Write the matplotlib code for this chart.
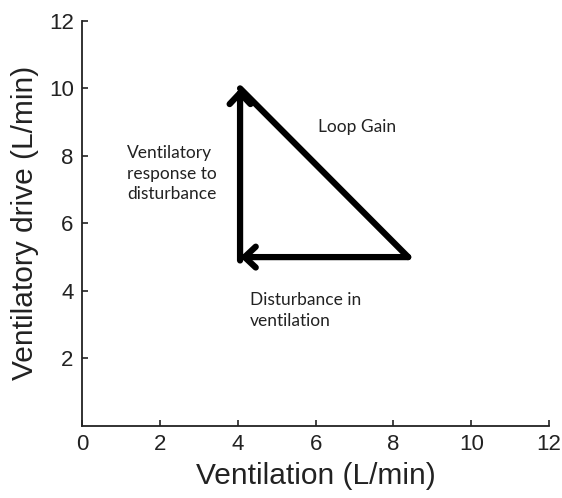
import matplotlib
matplotlib.use("Agg")
import matplotlib.pyplot as plt

# loop gain triangle: disturbance -> response -> loop gain
ventilation = [8.38, 4.06, 4.06]   # right vertex, lower-left, top
drive = [5.0, 5.0, 10.0]

x_ticks = [0, 2, 4, 6, 8, 10, 12]
y_ticks = [2, 4, 6, 8, 10, 12]

fig = plt.figure(figsize=(5.62, 4.98), dpi=100)
ax = fig.add_axes([0.146, 0.145, 0.831, 0.813])

ax.set_xlim(0, 12)
ax.set_ylim(0, 12)
ax.set_xticks(x_ticks)
ax.set_yticks(y_ticks)
ax.spines['top'].set_visible(False)
ax.spines['right'].set_visible(False)
for s in ('left', 'bottom'):
    ax.spines[s].set_linewidth(1.3)
    ax.spines[s].set_color('#222222')
ax.tick_params(direction='in', length=4, width=1.2, labelsize=16, colors='#222222', pad=6)
for lbl in ax.get_xticklabels() + ax.get_yticklabels():
    lbl.set_family('Liberation Sans')

ax.set_xlabel('Ventilation (L/min)', fontsize=21.5, family='Liberation Sans', color='#222222', labelpad=5)
ax.set_ylabel('Ventilatory drive (L/min)', fontsize=21.5, family='Liberation Sans', color='#222222', labelpad=7)

lw = 4.5
head = '->,head_length=0.8,head_width=0.75'
# horizontal: disturbance in ventilation
ax.annotate('', xy=(ventilation[1], drive[1]), xytext=(ventilation[0], drive[0]),
            arrowprops=dict(arrowstyle=head, lw=lw, color='black', shrinkA=0, shrinkB=0))
# vertical: ventilatory response
ax.annotate('', xy=(ventilation[2], drive[2]), xytext=(ventilation[1], drive[1] - 0.1),
            arrowprops=dict(arrowstyle=head, lw=lw, color='black', shrinkA=0, shrinkB=0))
# diagonal: loop gain
ax.plot([ventilation[2], ventilation[0]], [drive[2], drive[0]], color='black', lw=lw,
        solid_capstyle='round')

tfont = dict(fontsize=12.5, family='Lato', color='#222222')
ax.text(7.07, 8.86, 'Loop Gain', ha='center', va='center', **tfont)
ax.text(1.16, 7.47, 'Ventilatory\nresponse to\ndisturbance', ha='left', va='center',
        linespacing=1.35, **tfont)
ax.text(4.32, 3.41, 'Disturbance in\nventilation', ha='left', va='center',
        linespacing=1.35, **tfont)

fig.savefig('out.png', dpi=100)
